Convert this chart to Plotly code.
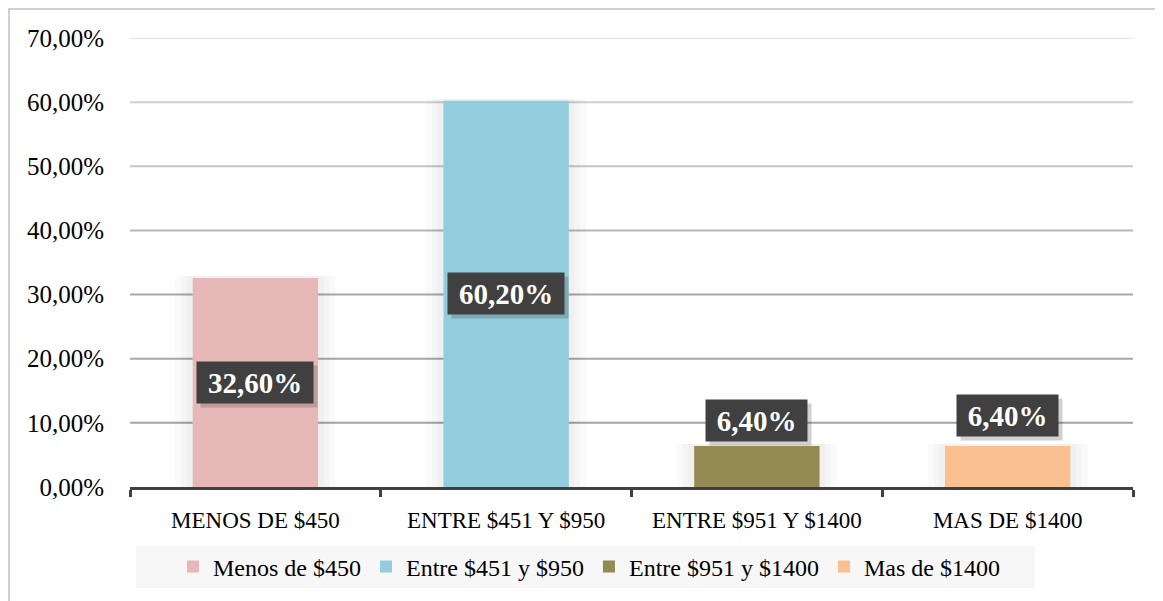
import plotly.graph_objects as go

categories = ["MENOS DE $450", "ENTRE $451 Y $950", "ENTRE $951 Y $1400", "MAS DE $1400"]
legend_names = ["Menos de $450", "Entre $451 y $950", "Entre $951 y $1400", "Mas de $1400"]
values = [32.6, 60.2, 6.4, 6.4]
label_texts = ["32,60%", "60,20%", "6,40%", "6,40%"]
label_y = [16.3, 30.1, 10.3, 11.1]
colors = ["#E6B9B8", "#93CDDD", "#948A54", "#FAC090"]
y_ticks = [0, 10, 20, 30, 40, 50, 60, 70]
y_tick_labels = ["0,00%", "10,00%", "20,00%", "30,00%", "40,00%", "50,00%", "60,00%", "70,00%"]
grid_colors = ["#a0a0a0", "#a3a3a3", "#a8a8a8", "#aaaaaa", "#b8b8b8", "#c6c6c6", "#d0d0d0", "#e2e2e2"]

fig = go.Figure()
# soft shadow columns behind bars
for w in [0.64, 0.59, 0.545]:
    fig.add_trace(go.Bar(x=categories, y=[v + 0.3 for v in values], width=w, showlegend=False,
                         marker=dict(color="rgba(0,0,0,0.018)", line=dict(width=0)), hoverinfo="skip"))
for cat, name, val, col in zip(categories, legend_names, values, colors):
    fig.add_trace(go.Bar(x=[cat], y=[val], name=name, marker=dict(color=col, line=dict(width=0)),
                         width=0.5, hoverinfo="skip"))

shapes = []
for t, gc in zip(y_ticks[1:], grid_colors[1:]):
    shapes.append(dict(type="line", xref="paper", yref="y", x0=0, x1=1, y0=t, y1=t,
                       line=dict(color=gc, width=2), layer="below"))
# outer chart border
shapes.append(dict(type="rect", xref="paper", yref="paper", x0=-0.1206, x1=1.0279, y0=-0.32, y1=1.0646,
                   line=dict(color="#d0d0d0", width=2), layer="below"))
# legend background
shapes.append(dict(type="rect", xref="paper", yref="paper", x0=(136-130)/1003, x1=(1035-130)/1003,
                   y0=(487-588)/449, y1=(487-546)/449, line=dict(width=0), fillcolor="#f7f7f7", layer="below"))

annotations = []
for cat, txt, ly in zip(categories, label_texts, label_y):
    bw = 15 * len(txt) + 22
    # drop shadow of the label box
    annotations.append(dict(x=cat, y=ly, xref="x", yref="y", text="&nbsp;", showarrow=False,
                            font=dict(family="Liberation Serif", size=29, color="rgba(0,0,0,0)"),
                            bgcolor="rgba(60,40,40,0.22)", borderpad=2, width=bw, height=37,
                            xshift=4, yshift=-4, xanchor="center", yanchor="middle"))
    annotations.append(dict(x=cat, y=ly, xref="x", yref="y", text="<b>" + txt + "</b>", showarrow=False,
                            font=dict(family="Liberation Serif", size=29, color="white"),
                            bgcolor="#404040", borderpad=2, width=bw, height=37,
                            xanchor="center", yanchor="middle"))

fig.update_layout(
    width=1163, height=601,
    margin=dict(l=122, r=38, t=30, b=122),
    paper_bgcolor="white", plot_bgcolor="white",
    barmode="overlay",
    showlegend=True,
    legend=dict(orientation="h", x=(589-130)/1003, xanchor="center", y=(487-567)/449, yanchor="middle",
                bgcolor="rgba(0,0,0,0)", font=dict(family="Liberation Serif", size=24, color="black"),
                itemclick=False, itemdoubleclick=False, itemwidth=30),
    shapes=shapes,
    annotations=annotations,
    xaxis=dict(type="category", showgrid=False, showline=True, linecolor="#404040", linewidth=3,
               ticks="outside", tickson="boundaries", ticklen=7, tickwidth=3, tickcolor="#404040",
               ticklabelstandoff=10,
               tickfont=dict(family="Liberation Serif", size=23, color="black"), fixedrange=True),
    yaxis=dict(range=[0, 70], tickvals=y_ticks, ticktext=y_tick_labels, showgrid=False, zeroline=False,
               showline=False, ticks="", ticklabelstandoff=25,
               tickfont=dict(family="Liberation Serif", size=25, color="black"), fixedrange=True),
)

fig.write_html("out.html")
